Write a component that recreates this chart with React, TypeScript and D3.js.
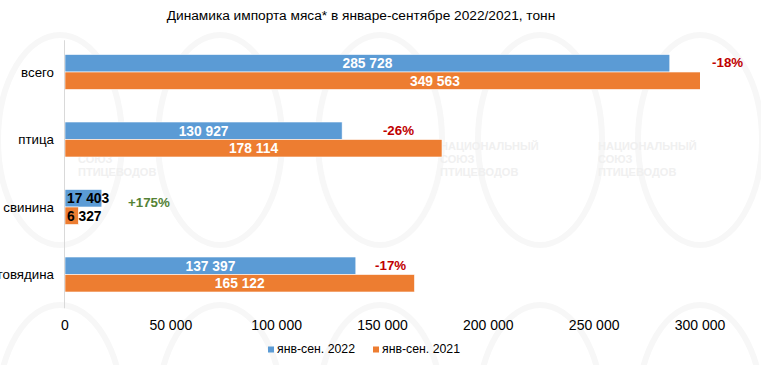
import React from "react";
import * as d3 from "d3";

const categories = ["всего", "птица", "свинина", "говядина"];
const values2022 = [285728, 130927, 17403, 137397];
const values2021 = [349563, 178114, 6327, 165122];
const changeLabels = ["-18%", "-26%", "+175%", "-17%"];
const changeAnchors = [305700, 150200, 29800, 146500];
const xTicks = [0, 50000, 100000, 150000, 200000, 250000, 300000];
const seriesNames = ["янв-сен. 2022", "янв-сен. 2021"];
const title = "Динамика импорта мяса* в январе-сентябре 2022/2021, тонн";

const W = 761;
const H = 365;
const FONT = "'Liberation Sans', Arial, sans-serif";
const BLUE = "#5B9BD5";
const ORANGE = "#ED7D31";

const fmt = (v: number) => d3.format(",")(v).replace(/,/g, " ");

export default function App() {
  const left = 65;
  const right = 700;
  const top = 38.25;
  const bottom = 308.25;

  const x = d3.scaleLinear().domain([0, 300000]).range([left, right]);
  const y = d3
    .scaleBand<string>()
    .domain(categories)
    .range([top, bottom])
    .paddingInner(0.4815)
    .paddingOuter(0.2407);
  const bh = y.bandwidth() / 2;

  const series = [values2022, values2021];
  const colors = [BLUE, ORANGE];

  const wm = [
    [440, 150],
    [598, 150],
    [78, 150],
  ];

  return (
    <svg
      width={W}
      height={H}
      style={{ position: "absolute", left: 0, top: 0, background: "#fff" }}
      fontFamily={FONT}
    >
      <defs>
        <clipPath id="plotclip">
          <rect x={left} y={0} width={right - left} height={H} />
        </clipPath>
      </defs>
      {/* faint watermark */}
      <g>
        {[20, 180, 340, 500, 660].map((cx, i) => (
          <g key={"e" + i}>
            <ellipse cx={cx + 40} cy={140} rx={62} ry={105} fill="none" stroke="#f7f7f7" strokeWidth={6} />
            <ellipse cx={cx + 40} cy={410} rx={62} ry={105} fill="none" stroke="#f7f7f7" strokeWidth={6} />
          </g>
        ))}
        {wm.map(([wx, wy], i) => (
          <text key={"w" + i} x={wx} y={wy} fill="#f0f0f0" fontSize={11} fontWeight="bold">
            <tspan x={wx} dy={0}>НАЦИОНАЛЬНЫЙ</tspan>
            <tspan x={wx} dy={13}>СОЮЗ</tspan>
            <tspan x={wx} dy={13}>ПТИЦЕВОДОВ</tspan>
          </text>
        ))}
      </g>

      <text x={361} y={20} textAnchor="middle" fontSize={13.7} fill="#000">
        {title}
      </text>

      {/* axis line */}
      <line x1={left - 0.5} x2={left - 0.5} y1={top + 2} y2={bottom} stroke="#d9d9d9" strokeWidth={1} />

      {/* bars */}
      <g clipPath="url(#plotclip)">
        {categories.map((c, i) =>
          series.map((s, k) => (
            <rect
              key={c + k}
              x={x(0)}
              y={(y(c) as number) + k * bh}
              width={x(s[i]) - x(0)}
              height={bh}
              fill={colors[k]}
              stroke="#fff"
              strokeWidth={0.6}
            />
          ))
        )}
      </g>

      {/* category labels */}
      {categories.map((c) => (
        <text
          key={"c" + c}
          x={54}
          y={(y(c) as number) + bh}
          dy="0.35em"
          textAnchor="end"
          fontSize={13.3}
          fill="#000"
        >
          {c}
        </text>
      ))}

      {/* value labels */}
      {categories.map((c, i) =>
        series.map((s, k) => {
          const w = x(s[i]) - x(0);
          const small = w < 60;
          return (
            <text
              key={"v" + c + k}
              x={small ? x(0) + 2 : (x(0) + x(s[i])) / 2}
              y={(y(c) as number) + k * bh + bh / 2}
              dy="0.36em"
              textAnchor={small ? "start" : "middle"}
              fontSize={13.8}
              fontWeight="bold"
              fill={small ? "#000" : "#fff"}
            >
              {fmt(s[i])}
            </text>
          );
        })
      )}

      {/* change labels */}
      {categories.map((c, i) => (
        <text
          key={"p" + c}
          x={x(changeAnchors[i])}
          y={(y(c) as number) + bh / 2 + (changeLabels[i].startsWith("+") ? 4 : -1)}
          dy="0.36em"
          fontSize={13.3}
          fontWeight="bold"
          fill={changeLabels[i].startsWith("+") ? "#548235" : "#C00000"}
        >
          {changeLabels[i]}
        </text>
      ))}

      {/* x tick labels */}
      {xTicks.map((t) => (
        <text key={"t" + t} x={x(t)} y={330} textAnchor="middle" fontSize={14} fill="#000">
          {fmt(t)}
        </text>
      ))}

      {/* legend */}
      {seriesNames.map((n, k) => {
        const lx = k === 0 ? 268 : 373;
        return (
          <g key={"l" + k}>
            <rect x={lx} y={346.5} width={6} height={6} fill={colors[k]} />
            <text x={lx + 9} y={353} fontSize={12.3} fill="#000">
              {n}
            </text>
          </g>
        );
      })}
    </svg>
  );
}
